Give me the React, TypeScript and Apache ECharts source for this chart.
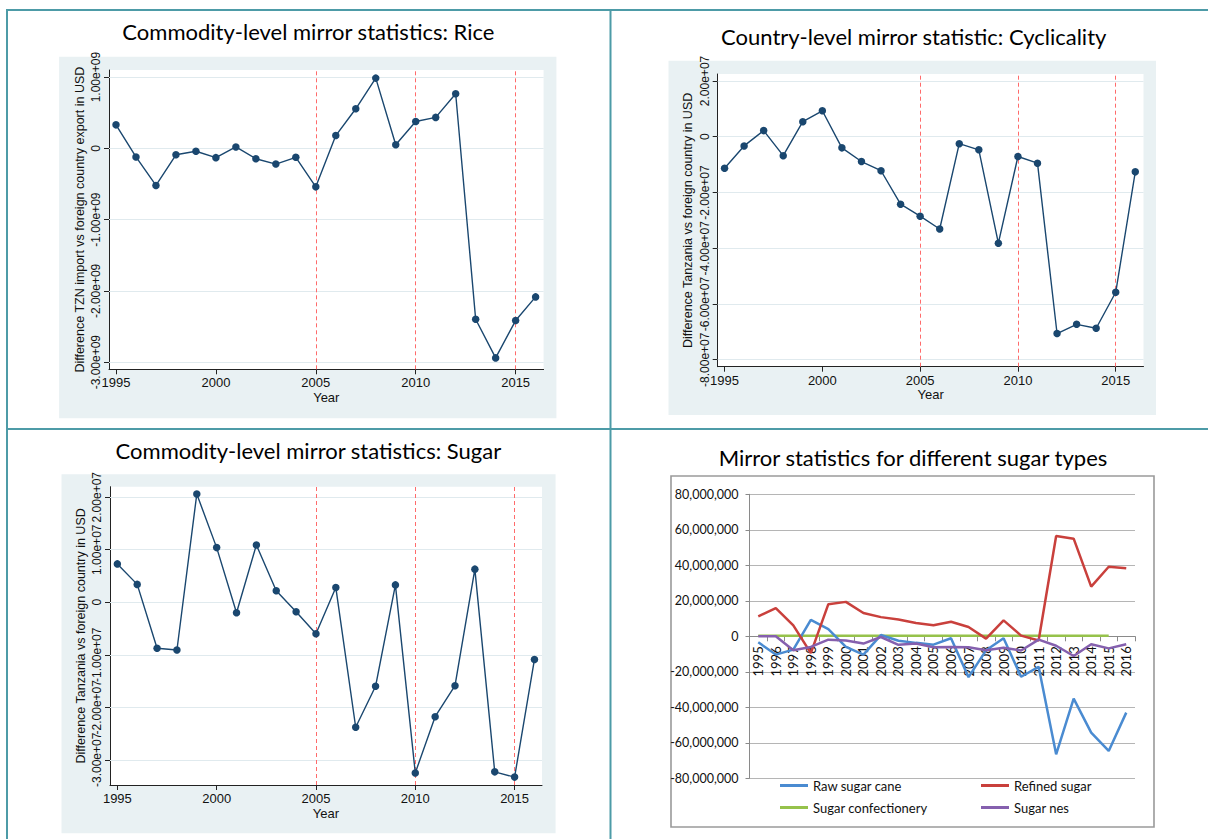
import React, { useEffect, useRef } from 'react';
import * as echarts from 'echarts';

// ---------- data ----------
const years = [1995, 1996, 1997, 1998, 1999, 2000, 2001, 2002, 2003, 2004, 2005, 2006, 2007, 2008, 2009, 2010, 2011, 2012, 2013, 2014, 2015, 2016];
const yearTicks = [1995, 2000, 2005, 2010, 2015];
const breakYears = [2005, 2010, 2015];

// Rice: difference TZN import vs foreign export (USD)
const riceDiff = [0.33e9, -0.12e9, -0.52e9, -0.09e9, -0.04e9, -0.13e9, 0.02e9, -0.145e9, -0.22e9, -0.125e9, -0.54e9, 0.18e9, 0.556e9, 0.986e9, 0.05e9, 0.378e9, 0.435e9, 0.766e9, -2.397e9, -2.94e9, -2.416e9, -2.084e9];
const riceTicks = [-3e9, -2e9, -1e9, 0, 1e9];

// Cyclicality (country level)
const cycDiff = [-1.13e7, -0.33e7, 0.22e7, -0.68e7, 0.54e7, 0.93e7, -0.40e7, -0.89e7, -1.22e7, -2.42e7, -2.85e7, -3.31e7, -0.25e7, -0.47e7, -3.82e7, -0.71e7, -0.95e7, -7.06e7, -6.73e7, -6.87e7, -5.58e7, -1.26e7];
const cycTicks = [-8e7, -6e7, -4e7, -2e7, 0, 2e7];

// Sugar (commodity level)
const sugarDiff = [0.73e7, 0.34e7, -0.875e7, -0.91e7, 2.06e7, 1.04e7, -0.20e7, 1.09e7, 0.22e7, -0.18e7, -0.60e7, 0.28e7, -2.38e7, -1.60e7, 0.33e7, -3.25e7, -2.18e7, -1.59e7, 0.63e7, -3.23e7, -3.33e7, -1.09e7];
const sugarTicks = [-3e7, -2e7, -1e7, 0, 1e7, 2e7];

// Sugar types (USD)
const sugarTypeNames = ['Raw sugar cane', 'Refined sugar', 'Sugar confectionery', 'Sugar nes'];
const rawCane = [-3.4e6, -10.3e6, -7.5e6, 9.2e6, 4.1e6, -6.0e6, -10.3e6, 0.7e6, -2.5e6, -3.7e6, -4.7e6, -1.1e6, -23.0e6, -7.9e6, -1.1e6, -22.8e6, -17.2e6, -66.5e6, -35.1e6, -54.3e6, -64.6e6, -43.0e6];
const refined = [11.2e6, 15.9e6, 6.2e6, -9.5e6, 18.1e6, 19.4e6, 13.1e6, 10.8e6, 9.5e6, 7.5e6, 6.2e6, 8.2e6, 5.2e6, -1.3e6, 9.0e6, 0.4e6, -2.4e6, 56.5e6, 55.0e6, 28.0e6, 39.2e6, 38.3e6];
const confectionery = [0.3e6, 0.3e6, 0.3e6, 0.3e6, 0.3e6, 0.3e6, 0.3e6, 0.3e6, 0.3e6, 0.3e6, 0.3e6, 0.3e6, 0.3e6, 0.3e6, 0.3e6, 0.3e6, 0.3e6, 0.3e6, 0.3e6, 0.3e6, 0.3e6, null];
const sugarNes = [0, 0, -7.9e6, -6.0e6, -1.9e6, -2.4e6, -4.1e6, -0.4e6, -4.8e6, -4.1e6, -6.2e6, -6.0e6, -6.2e6, -7.9e6, -6.4e6, -8.0e6, -1.9e6, -5.3e6, -11.1e6, -4.5e6, -6.8e6, -4.5e6];

const titles = [
  'Commodity-level mirror statistics: Rice',
  'Country-level mirror statistic: Cyclicality',
  'Commodity-level mirror statistics: Sugar',
  'Mirror statistics for different sugar types',
];

// ---------- styles ----------
const STATA_FONT = "'Liberation Sans', Arial, sans-serif";
const OFFICE_FONT = "Lato, 'Open Sans', sans-serif";
const TEAL = '#4d9ba7';
const STATA_BG = '#e9f1f3';
const STATA_GRID = '#e0eaee';
const NAVY = '#1a476f';
const RED_DASH = '#ff6b6b';

function stataFmt(v: number): string {
  if (v === 0) return '0';
  const s = v.toExponential(2);
  return s.replace(/e([+-])(\d+)$/, (_m: string, sign: string, d: string) => 'e' + sign + (d.length < 2 ? '0' + d : d));
}

function commaFmt(v: number): string {
  const neg = v < 0;
  const s = Math.round(Math.abs(v)).toString().replace(/\B(?=(\d{3})+(?!\d))/g, ',');
  return (neg ? '-' : '') + s;
}

type StataPanel = {
  grid: { left: number; top: number; width: number; height: number };
  xMin: number;
  xMax: number;
  yMin: number;
  yMax: number;
  yTicks: number[];
  yName: string;
  values: number[];
};

const stataPanels: StataPanel[] = [
  { grid: { left: 109, top: 70, width: 434.6, height: 299.3 }, xMin: 1994.65, xMax: 2016.4, yMin: -3.1e9, yMax: 1.1e9, yTicks: riceTicks, yName: 'Difference TZN import vs foreign country export in USD', values: riceDiff },
  { grid: { left: 717.7, top: 74, width: 425.8, height: 292.7 }, xMin: 1994.65, xMax: 2016.42, yMin: -8.25e7, yMax: 2.25e7, yTicks: cycTicks, yName: 'Difference Tanzania vs foreign country in USD', values: cycDiff },
  { grid: { left: 110, top: 486.7, width: 432, height: 298.3 }, xMin: 1994.63, xMax: 2016.38, yMin: -3.48e7, yMax: 2.2e7, yTicks: sugarTicks, yName: 'Difference Tanzania vs foreign country in USD', values: sugarDiff },
];

function buildOption(): any {
  const grid: any[] = [];
  const xAxis: any[] = [];
  const yAxis: any[] = [];
  const series: any[] = [];

  const yLabelStyle = { color: '#111', fontFamily: STATA_FONT, fontSize: 12, margin: 7, rotate: 90, hideOverlap: false, formatter: (v: number) => stataFmt(v) };

  stataPanels.forEach((p, i) => {
    grid.push({ ...p.grid, show: true, backgroundColor: '#ffffff', borderWidth: 0, containLabel: false, outerBoundsMode: 'none' });
    xAxis.push({
      type: 'value', gridIndex: i, min: p.xMin, max: p.xMax,
      axisLine: { show: true, onZero: false, lineStyle: { color: '#222', width: 1 } },
      axisTick: { show: true, length: 5, customValues: yearTicks, lineStyle: { color: '#222' } },
      axisLabel: { show: true, customValues: yearTicks, color: '#111', fontFamily: STATA_FONT, fontSize: 13, margin: 7, hideOverlap: false, showMinLabel: true, showMaxLabel: true, formatter: (v: number) => String(v) },
      splitLine: { show: false },
      name: 'Year', nameLocation: 'middle', nameGap: 22, nameMoveOverlap: false,
      nameTextStyle: { color: '#111', fontFamily: STATA_FONT, fontSize: 13, lineHeight: 12 },
    });
    // alternate tick labels on two stacked axes so that tightly packed labels all stay visible
    const evenTicks = p.yTicks.filter((_v, k) => k % 2 === 0);
    const oddTicks = p.yTicks.filter((_v, k) => k % 2 === 1);
    yAxis.push({
      type: 'value', gridIndex: i, min: p.yMin, max: p.yMax, position: 'left', offset: 0,
      axisLine: { show: true, onZero: false, lineStyle: { color: '#222', width: 1 } },
      axisTick: { show: true, length: 5, customValues: p.yTicks, lineStyle: { color: '#222' } },
      axisLabel: { show: true, customValues: evenTicks, showMinLabel: true, showMaxLabel: true, ...yLabelStyle },
      splitLine: { show: false },
      name: p.yName, nameLocation: 'middle', nameRotate: 90, nameGap: 23, nameMoveOverlap: false,
      nameTextStyle: { color: '#111', fontFamily: STATA_FONT, fontSize: 12.5 },
    });
    yAxis.push({
      type: 'value', gridIndex: i, min: p.yMin, max: p.yMax, position: 'left', offset: 0,
      axisLine: { show: false, onZero: false },
      axisTick: { show: false, customValues: oddTicks },
      axisLabel: { show: true, customValues: oddTicks, showMinLabel: true, showMaxLabel: true, ...yLabelStyle },
      splitLine: { show: false },
    });
    const pts = years.map((y, k) => [y, p.values[k]]);
    // background helper series carrying grid lines and dashed break lines
    series.push({
      type: 'line', xAxisIndex: i, yAxisIndex: 2 * i, data: pts, z: 1, silent: true,
      symbol: 'none', showSymbol: false, lineStyle: { opacity: 0, width: 0 },
      markLine: {
        silent: true, symbol: 'none', z: 1, animation: false, label: { show: false },
        data: [
          ...p.yTicks.map((v) => ({ yAxis: v, lineStyle: { color: STATA_GRID, width: 1, type: 'solid' } })),
          ...breakYears.map((x) => ({ xAxis: x, lineStyle: { color: RED_DASH, width: 1, type: [4, 3] } })),
        ],
      },
    });
    series.push({
      type: 'line', xAxisIndex: i, yAxisIndex: 2 * i, data: pts, z: 3,
      symbol: 'circle', symbolSize: 7.5, showSymbol: true,
      itemStyle: { color: NAVY },
      lineStyle: { color: NAVY, width: 1.4 },
    });
  });

  // Excel-style panel
  const exGrid = { left: 749.5, top: 494.3, width: 385.5, height: 284 };
  const yMinEx = -80e6;
  const yMaxEx = 80e6;
  // shift the category axis up onto the zero line
  const zeroOffset = -exGrid.height * (0 - yMinEx) / (yMaxEx - yMinEx);
  grid.push({ ...exGrid, show: false, containLabel: false, outerBoundsMode: 'none' });
  xAxis.push({
    type: 'category', gridIndex: 3, data: years.map(String), boundaryGap: true, position: 'bottom', offset: zeroOffset,
    axisLine: { show: true, onZero: false, lineStyle: { color: '#8a8a8a', width: 1 } },
    axisTick: { show: true, length: 5, interval: 0, alignWithLabel: false, lineStyle: { color: '#8a8a8a' } },
    axisLabel: { show: true, interval: 0, rotate: 90, color: '#111', fontFamily: OFFICE_FONT, fontSize: 13, margin: 10, hideOverlap: false },
    splitLine: { show: false },
  });
  const exYIndex = yAxis.length;
  yAxis.push({
    type: 'value', gridIndex: 3, min: yMinEx, max: yMaxEx, interval: 20e6,
    axisLine: { show: true, onZero: false, lineStyle: { color: '#8a8a8a', width: 1 } },
    axisTick: { show: true, length: 4, lineStyle: { color: '#8a8a8a' } },
    axisLabel: { show: true, color: '#111', fontFamily: OFFICE_FONT, fontSize: 12.5, margin: 11, formatter: (v: number) => commaFmt(v) },
    splitLine: { show: true, lineStyle: { color: '#b5b5b5', width: 1 } },
  });
  const typeData = [rawCane, refined, confectionery, sugarNes];
  const typeColors = ['#4a8bd1', '#c9403c', '#96c24b', '#8560ae'];
  typeData.forEach((d, k) => {
    series.push({
      type: 'line', name: sugarTypeNames[k], xAxisIndex: 3, yAxisIndex: exYIndex, data: d,
      symbol: 'none', showSymbol: false, connectNulls: false, z: 3 + (k === 2 ? -1 : 0),
      itemStyle: { color: typeColors[k] },
      lineStyle: { color: typeColors[k], width: 2.5 },
    });
  });

  const legendCommon = {
    orient: 'vertical', icon: 'rect', itemWidth: 28, itemHeight: 3, itemGap: 9,
    selectedMode: false, padding: 0,
    textStyle: { color: '#111', fontFamily: OFFICE_FONT, fontSize: 13 },
  };
  const legend = [
    { ...legendCommon, left: 780, top: 779, data: [sugarTypeNames[0], sugarTypeNames[2]] },
    { ...legendCommon, left: 981, top: 779, data: [sugarTypeNames[1], sugarTypeNames[3]] },
  ];

  const titlePos = [
    [308.4, 31.7],
    [913.7, 36],
    [308.4, 450],
    [913, 457.3],
  ];

  const graphic: any[] = [
    // stata outer regions
    { type: 'rect', z: -10, shape: { x: 59.1, y: 56.7, width: 497.3, height: 361.6 }, style: { fill: STATA_BG } },
    { type: 'rect', z: -10, shape: { x: 668.5, y: 60.7, width: 487.5, height: 354.3 }, style: { fill: STATA_BG } },
    { type: 'rect', z: -10, shape: { x: 61.5, y: 474.3, width: 494.1, height: 359 }, style: { fill: STATA_BG } },
    // excel chart frame
    { type: 'rect', z: -10, shape: { x: 671, y: 476, width: 483, height: 351 }, style: { fill: '#ffffff', stroke: '#9a9a9a', lineWidth: 1.6 } },
    // table borders
    { type: 'line', z: 20, shape: { x1: 6, y1: 10, x2: 1208, y2: 10 }, style: { stroke: TEAL, lineWidth: 2 } },
    { type: 'line', z: 20, shape: { x1: 7, y1: 9, x2: 7, y2: 839 }, style: { stroke: TEAL, lineWidth: 2 } },
    { type: 'line', z: 20, shape: { x1: 610.5, y1: 9, x2: 610.5, y2: 839 }, style: { stroke: TEAL, lineWidth: 2 } },
    { type: 'line', z: 20, shape: { x1: 6, y1: 429, x2: 1208, y2: 429 }, style: { stroke: TEAL, lineWidth: 2 } },
    ...titles.map((t, k) => ({
      type: 'text', z: 20, x: titlePos[k][0], y: titlePos[k][1],
      style: { text: t, fill: '#000', fontFamily: OFFICE_FONT, fontSize: 22, align: 'center', verticalAlign: 'middle' },
    })),
  ];

  return {
    animation: false,
    backgroundColor: '#ffffff',
    grid, xAxis, yAxis, series, legend, graphic,
  };
}

export default function App() {
  const ref = useRef<HTMLDivElement>(null);
  useEffect(() => {
    document.body.style.margin = '0';
    if (!ref.current) return;
    const chart = echarts.init(ref.current, undefined, { renderer: 'svg', width: 1208, height: 839 });
    chart.setOption(buildOption());
    return () => chart.dispose();
  }, []);
  return <div ref={ref} style={{ width: 1208, height: 839 }} />;
}
